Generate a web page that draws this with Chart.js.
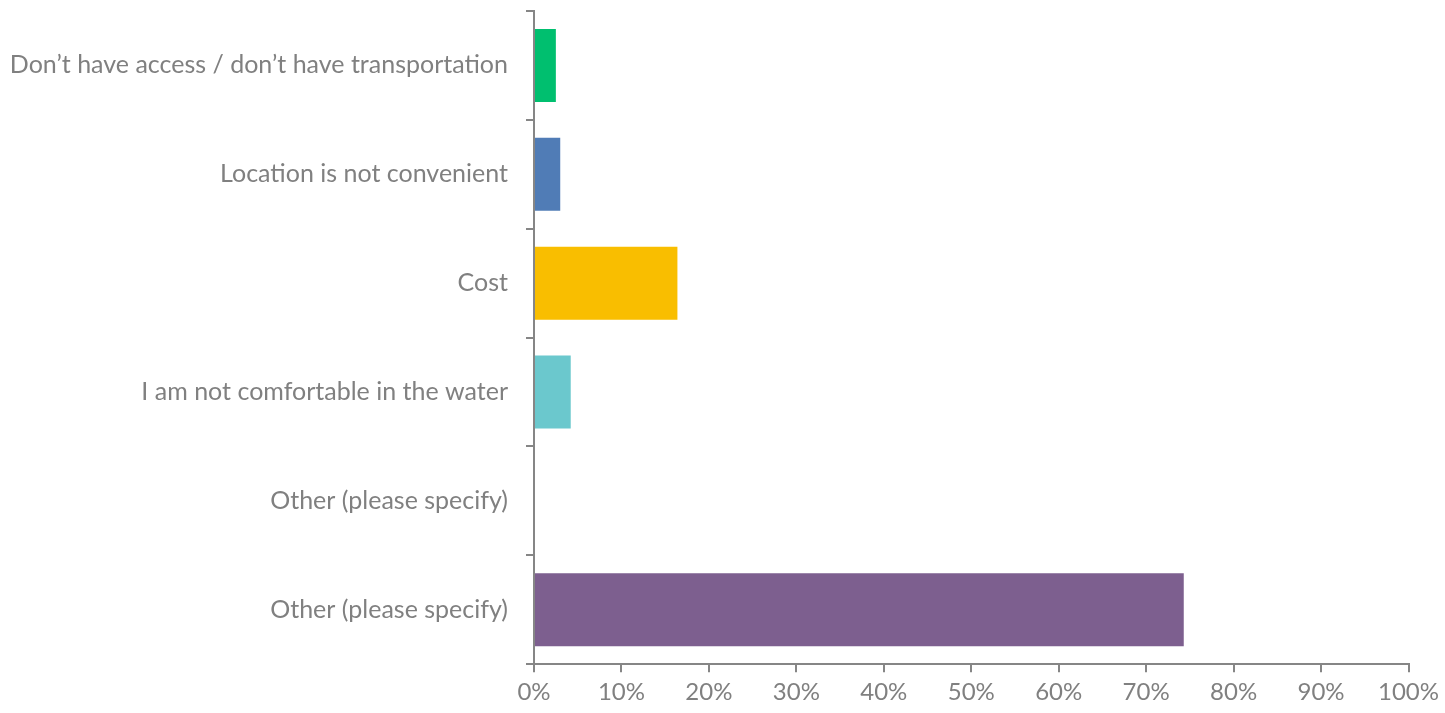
<!DOCTYPE html>
<html>
<head>
<meta charset="utf-8">
<script src="https://cdn.jsdelivr.net/npm/chart.js@4/dist/chart.umd.min.js"></script>
<style>
html,body{margin:0;padding:0;background:#fff;}
#wrap{width:1445px;height:713px;position:relative;}
</style>
</head>
<body>
<div id="wrap"><canvas id="c" width="1445" height="713"></canvas></div>
<script>
const categories = [
  "Don\u2019t have access / don\u2019t have transportation",
  "Location is not convenient",
  "Cost",
  "I am not comfortable in the water",
  "Other (please specify)",
  "Other (please specify)"
];
const values = [2.5, 3.0, 16.4, 4.2, 0, 74.3];
const xTicks = [0, 10, 20, 30, 40, 50, 60, 70, 80, 90, 100];
const barColors = ["#00BF6F", "#507CB6", "#F9BE00", "#6BC8CD", "#D25F90", "#7D5F8F"];

const axisColor = "#868686";
const textColor = "#808080";
const fontFamily = "Lato, 'Open Sans', sans-serif";

new Chart(document.getElementById("c"), {
  type: "bar",
  data: {
    labels: categories,
    datasets: [{
      data: values,
      backgroundColor: barColors,
      borderWidth: 0,
      barPercentage: 0.67,
      categoryPercentage: 1.0
    }]
  },
  options: {
    indexAxis: "y",
    responsive: false,
    animation: false,
    devicePixelRatio: 1,
    layout: { padding: { left: 6, right: 13, top: 11, bottom: 0 } },
    plugins: { legend: { display: false }, tooltip: { enabled: false } },
    scales: {
      x: {
        min: 0, max: 100,
        afterBuildTicks: (s) => { s.ticks = xTicks.map(v => ({ value: v })); },
        afterFit: (s) => { s.paddingLeft = 0; },
        grid: { drawOnChartArea: false, drawTicks: true, tickLength: 8, color: axisColor, lineWidth: 2 },
        border: { display: true, color: axisColor, width: 2 },
        ticks: {
          color: textColor,
          font: { family: fontFamily, size: 24 },
          padding: 6,
          callback: (v) => v + "%"
        }
      },
      y: {
        afterFit: (s) => { s.paddingTop = 0; s.paddingBottom = 0; s.width = 528; },
        grid: { drawOnChartArea: false, drawTicks: true, tickLength: 8, color: axisColor, lineWidth: 2, offset: true },
        border: { display: true, color: axisColor, width: 2 },
        ticks: {
          color: textColor,
          font: { family: fontFamily, size: 25 },
          padding: 18
        }
      }
    }
  }
});
</script>
</body>
</html>
